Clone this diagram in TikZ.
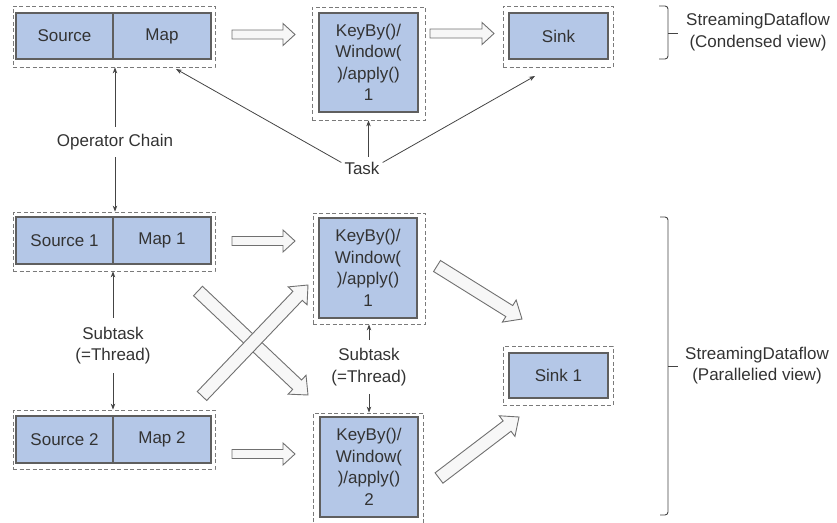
\documentclass[tikz,border=0pt]{standalone}
\usepackage{fontspec}
\setmainfont{Liberation Sans}
\usetikzlibrary{arrows.meta,calc}
\definecolor{opfill}{HTML}{B4C7E7}
\definecolor{opdraw}{HTML}{5F5F5F}
\definecolor{dashc}{HTML}{7A7A7A}
\definecolor{txt}{HTML}{333333}
\definecolor{fatfill}{HTML}{F7F7F7}
\definecolor{fatdraw}{HTML}{707070}
\definecolor{linec}{HTML}{444444}
\tikzset{
 opbox/.style={draw=opdraw, fill=opfill, line width=1.2pt, inner sep=0pt, text=txt, font=\fontsize{17}{21.5}\selectfont, align=center},
 dbox/.style={draw=dashc, dash pattern=on 4pt off 2.5pt, line width=0.8pt, inner sep=0pt},
 lbl/.style={text=txt, font=\fontsize{17}{21.5}\selectfont, align=center, inner xsep=3pt},
 conn/.style={draw=linec, line width=0.8pt, -{Stealth[length=6pt,width=4.5pt]}},
 fat/.style={draw=fatdraw, fill=fatfill, line width=0.9pt, line join=miter},
 brace/.style={draw=linec, line width=0.9pt, rounded corners=3pt},
}
\newcommand\fatarrow[5]{% tail, tip, shaft half, head half, head length
 \coordinate (fa-b) at ($(#2)!#5!(#1)$);
 \draw[fat] ($(#1)!#3!90:(#2)$) -- ($(fa-b)!#3!-90:(#1)$) -- ($(fa-b)!#4!-90:(#1)$) -- (#2)
   -- ($(fa-b)!#4!90:(#1)$) -- ($(fa-b)!#3!90:(#1)$) -- ($(#1)!#3!-90:(#2)$) -- cycle;}
\begin{document}
\begin{tikzpicture}[x=1pt,y=-1pt]
\useasboundingbox (0,0) rectangle (837,522);
% ---------- top row ----------
\node[dbox, minimum width=202pt, minimum height=61pt] (tD) at (114,36.5) {};
\node[opbox, minimum width=97pt, minimum height=46pt] (tSrc) at (64.5,36) {Source};
\node[opbox, minimum width=98pt, minimum height=46pt] (tMap) at (162,36) {Map};
\node[dbox, minimum width=113pt, minimum height=113pt] (tKD) at (368.5,63.5) {};
\node[opbox, minimum width=99pt, minimum height=99pt] (tKey) at (368.5,62.5) {KeyBy()/\\Window(\\)/apply()\\1};
\node[dbox, minimum width=110pt, minimum height=61pt] (tSD) at (558,36.5) {};
\node[opbox, minimum width=99pt, minimum height=46pt] (tSink) at (558.5,36) {Sink};
% ---------- bottom ----------
\node[dbox, minimum width=202pt, minimum height=59pt] (s1D) at (114,241.5) {};
\node[opbox, minimum width=97pt, minimum height=47pt] (s1) at (64.5,240.5) {Source 1};
\node[opbox, minimum width=98pt, minimum height=47pt] (m1) at (162,240.5) {Map 1};
\node[dbox, minimum width=202pt, minimum height=59pt] (s2D) at (114,439.5) {};
\node[opbox, minimum width=97pt, minimum height=47pt] (s2) at (64.5,439.5) {Source 2};
\node[opbox, minimum width=98pt, minimum height=47pt] (m2) at (162,439.5) {Map 2};
\node[dbox, minimum width=112pt, minimum height=111pt] (k1D) at (369,268.5) {};
\node[opbox, minimum width=98pt, minimum height=100pt] (k1) at (368,268) {KeyBy()/\\Window(\\)/apply()\\1};
\node[dbox, minimum width=110pt, minimum height=117pt] (k2D) at (368,471.5) {};
\node[opbox, minimum width=98pt, minimum height=100pt] (k2) at (369,467) {KeyBy()/\\Window(\\)/apply()\\2};
\node[dbox, minimum width=110pt, minimum height=59pt] (sk1D) at (558,375.5) {};
\node[opbox, minimum width=99pt, minimum height=45pt] (sk1) at (558.5,375.5) {Sink 1};
% ---------- labels ----------
\node[lbl, inner ysep=7pt] (opc) at (115,142) {Operator Chain};
\node[lbl, inner ysep=5pt] (task) at (362,168) {Task};
\node[lbl, inner ysep=9pt] (subL) at (113,345.5) {Subtask\\(=Thread)};
\node[lbl, inner ysep=8pt] (subR) at (369,367) {Subtask\\(=Thread)};
\node[lbl] (cv) at (758,32) {StreamingDataflow\\(Condensed view)};
\node[lbl] (pv) at (757,365.5) {StreamingDataflow\\(Parallelied view)};
% ---------- thin connectors ----------
\coordinate (tmapc) at (176,69);
\coordinate (tsinkc) at (535,76);
\draw[conn] (opc.north) -- (tD.south -| opc.north);
\draw[conn] (opc.south) -- (s1D.north -| opc.south);
\draw[conn] (task.165) -- (tmapc);
\draw[conn] (task.north -| tKD.south) -- (tKD.south);
\draw[conn] (task.15) -- (tsinkc);
\draw[conn] (subL.north) -- (s1D.south -| subL.north);
\draw[conn] (subL.south) -- (s2D.north -| subL.south);
\draw[conn] (subR.north) -- (k1D.south -| subR.north);
\draw[conn] (subR.south) -- (k2D.north -| subR.south);
% ---------- hollow arrows ----------
\coordinate (h1a) at (232,34.5); \coordinate (h1b) at (295,34.5);
\coordinate (h2a) at (430,33.5); \coordinate (h2b) at (494,33.5);
\coordinate (h3a) at (232,241);  \coordinate (h3b) at (295,241);
\coordinate (h4a) at (232,454);  \coordinate (h4b) at (295,454);
\coordinate (d1a) at (198,291);  \coordinate (d1b) at (308,395);
\coordinate (d2a) at (202,396);  \coordinate (d2b) at (308,285);
\coordinate (d3a) at (437,266);  \coordinate (d3b) at (522,319);
\coordinate (d4a) at (439,478);  \coordinate (d4b) at (519,417);
\fatarrow{h1a}{h1b}{4.5pt}{11pt}{12pt}
\fatarrow{h2a}{h2b}{4.5pt}{11pt}{12pt}
\fatarrow{h3a}{h3b}{4.5pt}{11pt}{12pt}
\fatarrow{h4a}{h4b}{4.5pt}{11pt}{12pt}
\fatarrow{d1a}{d1b}{6.5pt}{13pt}{15pt}
\fatarrow{d2a}{d2b}{6.5pt}{13pt}{15pt}
\fatarrow{d3a}{d3b}{6.5pt}{13pt}{15pt}
\fatarrow{d4a}{d4b}{6.5pt}{13pt}{15pt}
% ---------- braces ----------
\draw[brace] (659,6) -- (668,6) -- (668,59) -- (659,59);
\draw[brace] (668,33) -- (678,33);
\draw[brace] (660,217) -- (668,217) -- (668,515) -- (660,515);
\draw[brace] (668,366) -- (678,366);
\end{tikzpicture}
\end{document}
